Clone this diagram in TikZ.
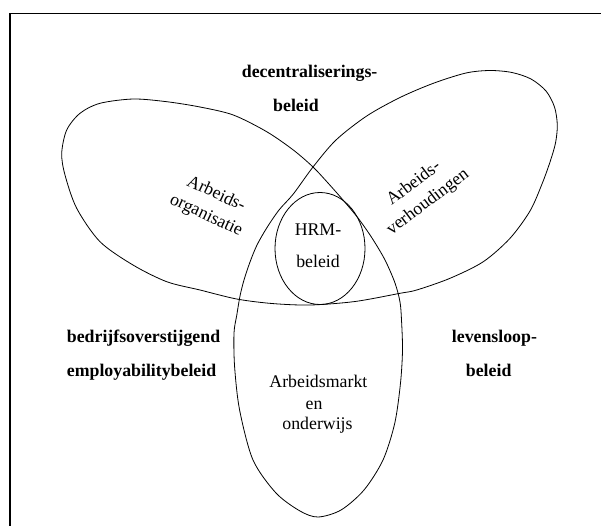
\documentclass[tikz,border=0pt]{standalone}
\usepackage{fontspec}
\setmainfont{Liberation Serif}
\begin{document}
\begin{tikzpicture}[x=1pt,y=-1pt,
  reg/.style={font=\fontsize{17.8}{21}\selectfont, inner sep=0pt, align=center},
  tilted/.style={font=\fontsize{17.8}{23.5}\selectfont, inner sep=0pt, align=center},
  bld/.style={font=\fontsize{17.8}{21}\selectfont\bfseries, inner sep=0pt},
  shape line/.style={draw=black, line width=0.8pt},
  frame line/.style={draw=black, line width=1.6pt}]
\useasboundingbox (0,0) rectangle (601,525);
\begin{scope}
  \clip (0,0) rectangle (601,525);
  \draw[frame line] (10,13.3) rectangle (640,560);
\end{scope}
% the three overlapping fields, traced as one closed outline
\draw[shape line] plot[smooth cycle, tension=0.5] coordinates {
  (313,167) (293.3,150) (266.7,131.7) (233.3,115) (200,107) (166.7,101.7)
  (133.3,99) (100,103.3) (80,113.3) (66.7,130) (61.7,153.3) (65,175)
  (76.7,208.3) (100,241.7) (133,265) (166.7,281.7) (200,290) (236.7,299)
  (272,303.5) (310,305) (355,301.5) (400,293.3) (416.7,290) (450,278.3)
  (483.3,261.7) (510,238.3) (530,211) (542,184) (550,162)
  (555.5,143) (557.3,125) (554.5,107) (546,91) (531,79) (512,72.5) (490,70.5)
  (466,73) (433.3,83.3) (400,97.5) (366.7,116) (336,140)
  (313,167) (293.3,194) (279,210) (266.7,228) (257,245) (250,262) (244,280)
  (240,296) (236.8,315) (234,333) (234.6,366.7) (239.6,410) (253,460)
  (276,493) (300,511) (318,517) (341,510) (364,490) (383,460) (394.8,423)
  (400.5,383) (402.5,350) (401.5,320) (400,302) (395,283) (385,260)
  (372,238) (358,218) (343,200) (328,183)};
% HRM field
\draw[shape line] (320,248.5) ellipse [x radius=45pt, y radius=56pt];
% labels
\node[bld, anchor=base west] (dec1) at (241.7,77.5) {decentraliserings-};
\node[bld, anchor=base west] (dec2) at (273,111) {beleid};
\node[bld, anchor=base west] (bed1) at (66.7,342.7) {bedrijfsoverstijgend};
\node[bld, anchor=base west] (bed2) at (66.7,376.5) {employabilitybeleid};
\node[bld, anchor=base west] (lev1) at (451.7,342.7) {levensloop-};
\node[bld, anchor=base west] (lev2) at (465.7,376) {beleid};
\node[reg, anchor=base] (hrm1) at (318,235) {HRM-};
\node[reg, anchor=base] (hrm2) at (318,267) {beleid};
\node[reg, anchor=base] (am1) at (318.4,387) {Arbeidsmarkt};
\node[reg, anchor=base] (am2) at (314,409) {en};
\node[reg, anchor=base] (am3) at (317.5,429) {onderwijs};
\node[tilted, rotate=-25] (ao) at (211,205) {Arbeids-\\organisatie};
\node[tilted, rotate=37] (av) at (421,193) {Arbeids-\\verhoudingen};
\end{tikzpicture}
\end{document}
